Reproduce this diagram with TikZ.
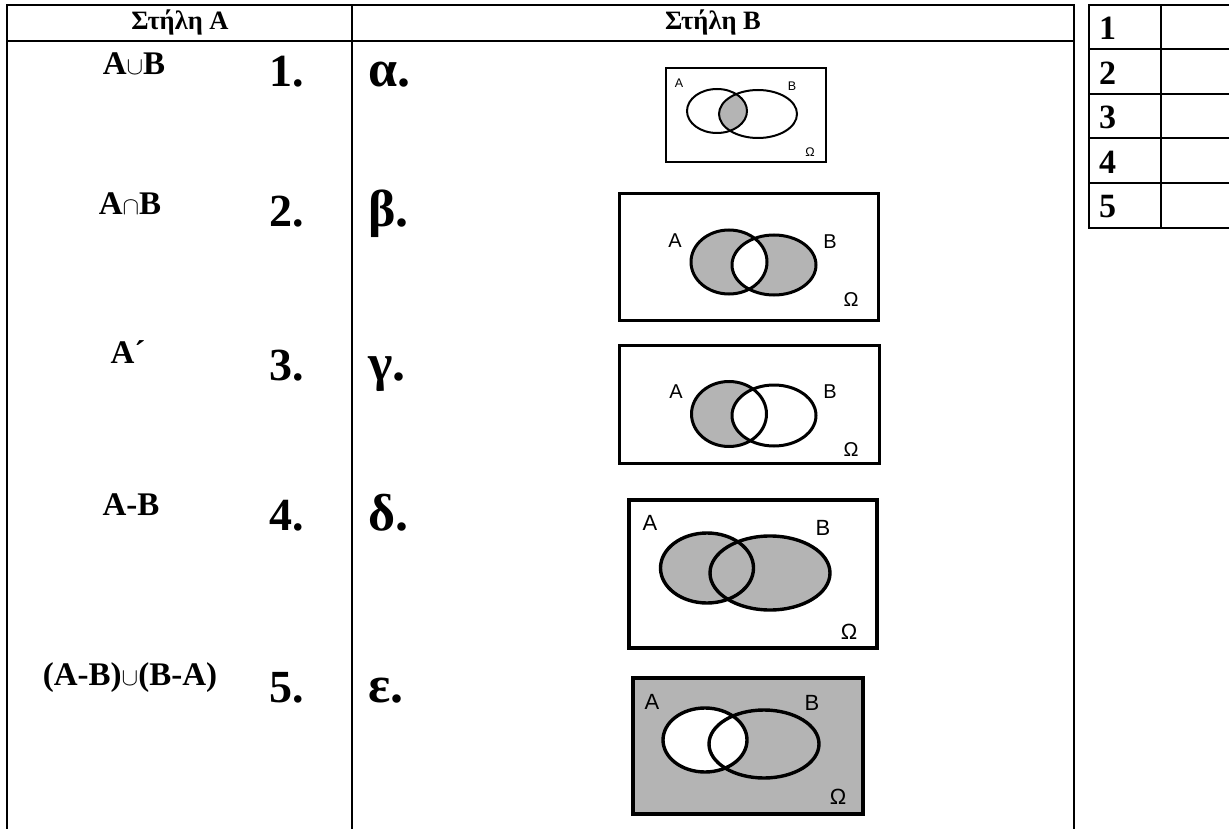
\documentclass[tikz,border=0pt]{standalone}
\usepackage{fontspec}
\setmainfont{Liberation Serif}
\newfontfamily\venfont{Liberation Sans}
\definecolor{vgray}{RGB}{180,180,180}
\tikzset{
  tline/.style={line width=2pt, line cap=rect},
  hdr/.style={anchor=base, inner sep=0pt, font=\fontsize{26.5}{28}\selectfont\bfseries},
  lbl/.style={anchor=base, inner sep=0pt, font=\fontsize{33}{35}\selectfont\bfseries},
  num/.style={anchor=base, inner sep=0pt, font=\fontsize{46}{48}\selectfont\bfseries},
  glet/.style={anchor=base west, inner sep=0pt, font=\fontsize{52}{54}\selectfont\bfseries},
  snum/.style={anchor=base west, inner sep=0pt, font=\fontsize{34}{36}\selectfont\bfseries},
  vs/.style={inner sep=0pt, font=\venfont\fontsize{12.5}{13}\selectfont},
  vm/.style={inner sep=0pt, font=\venfont\fontsize{20}{21}\selectfont},
  vl/.style={inner sep=0pt, font=\venfont\fontsize{22}{23}\selectfont},
}
\begin{document}
\begin{tikzpicture}[x=1pt,y=-1pt]
\useasboundingbox (0,0) rectangle (1229,829);
\clip (0,0) rectangle (1229,829);
\fill[white] (0,0) rectangle (1229,829);

% main table
\draw[tline] (7,5) -- (1074,5);
\draw[tline] (7,41) -- (1074,41);
\draw[tline] (7,5) -- (7,835);
\draw[tline] (352,5) -- (352,835);
\draw[tline] (1074,5) -- (1074,835);
\node[hdr] (hA) at (180,30) {Στήλη Α};
\node[hdr] (hB) at (713,30) {Στήλη Β};

% column A labels
\node[lbl] (l1) at (134,75) {A$\cup$B};
\node[lbl] (l2) at (130,215) {A$\cap$B};
\node[lbl] (l3) at (128,363) {A´};
\node[lbl] (l4) at (131,515) {A-B};
\node[lbl] (l5) at (130,685) {(A-B)$\cup$(B-A)};
\node[num] (n1) at (287,87) {1.};
\node[num] (n2) at (287,227) {2.};
\node[num] (n3) at (287,380) {3.};
\node[num] (n4) at (287,530) {4.};
\node[num] (n5) at (287,702) {5.};
\node[glet] (g1) at (368,87) {α.};
\node[glet] (g2) at (368,227) {β.};
\node[glet] (g3) at (368,380) {γ.};
\node[glet] (g4) at (368,530) {δ.};
\node[glet] (g5) at (368,702) {ε.};

% small answer table
\draw[tline] (1089,5) rectangle (1240,228);
\draw[tline] (1161,5) -- (1161,228);
\foreach \yy in {49.5,94,138.5,183} \draw[tline] (1089,\yy) -- (1240,\yy);
\node[snum] (s1) at (1099,40) {1};
\node[snum] (s2) at (1099,84.5) {2};
\node[snum] (s3) at (1099,129) {3};
\node[snum] (s4) at (1099,173.5) {4};
\node[snum] (s5) at (1099,218) {5};

% alpha: intersection
\begin{scope}
\clip (717,111) ellipse [x radius=30pt, y radius=22pt];
\fill[vgray] (758,114) ellipse [x radius=39pt, y radius=24pt];
\end{scope}
\draw[line width=2pt] (666,68) rectangle (826,162);
\draw[line width=2pt] (717,111) ellipse [x radius=30pt, y radius=22pt];
\draw[line width=2pt] (758,114) ellipse [x radius=39pt, y radius=24pt];
\node[vs] (aA) at (679,83) {A};
\node[vs] (aB) at (792,86) {B};
\node[vs] (aO) at (810,152) {Ω};

% beta: symmetric difference
\fill[vgray, even odd rule] (729,262) ellipse [x radius=38pt, y radius=32pt]
  (774,265) ellipse [x radius=42pt, y radius=30pt];
\draw[line width=3pt] (619,194) rectangle (878,320);
\draw[line width=3pt] (729,262) ellipse [x radius=38pt, y radius=32pt];
\draw[line width=3pt] (774,265) ellipse [x radius=42pt, y radius=30pt];
\node[vm] (bA) at (675,241) {A};
\node[vm] (bB) at (830,242) {B};
\node[vm] (bO) at (851,300) {Ω};

% gamma: A - B
\begin{scope}
\clip (729,414) ellipse [x radius=37.5pt, y radius=32.5pt];
\fill[vgray, even odd rule] (729,414) ellipse [x radius=37.5pt, y radius=32.5pt]
  (774,415.5) ellipse [x radius=42pt, y radius=30.5pt];
\end{scope}
\draw[line width=3pt] (619,345) rectangle (879,463);
\draw[line width=3pt] (729,414) ellipse [x radius=37.5pt, y radius=32.5pt];
\draw[line width=3pt] (774,415.5) ellipse [x radius=42pt, y radius=30.5pt];
\node[vm] (cA) at (676,392) {A};
\node[vm] (cB) at (830,392) {B};
\node[vm] (cO) at (851,450) {Ω};

% delta: union
\fill[vgray] (707,568) ellipse [x radius=46.5pt, y radius=35pt];
\fill[vgray] (770,573) ellipse [x radius=60pt, y radius=37pt];
\draw[line width=3.4pt] (629,500) rectangle (877,648);
\draw[line width=3.4pt] (707,568) ellipse [x radius=46.5pt, y radius=35pt];
\draw[line width=3.4pt] (770,573) ellipse [x radius=60pt, y radius=37pt];
\node[vl] (dA) at (650,523) {A};
\node[vl] (dB) at (823,528) {B};
\node[vl] (dO) at (849,632) {Ω};

% epsilon: complement of A
\fill[vgray] (633,678) rectangle (863,814);
\fill[white] (705,740) ellipse [x radius=42pt, y radius=32pt];
\draw[line width=3.4pt] (633,678) rectangle (863,814);
\draw[line width=3.4pt] (705,740) ellipse [x radius=42pt, y radius=32pt];
\draw[line width=3.4pt] (764,744) ellipse [x radius=55pt, y radius=34pt];
\node[vl] (eA) at (652,702) {A};
\node[vl] (eB) at (812,703) {B};
\node[vl] (eO) at (838,797) {Ω};
\end{tikzpicture}
\end{document}
